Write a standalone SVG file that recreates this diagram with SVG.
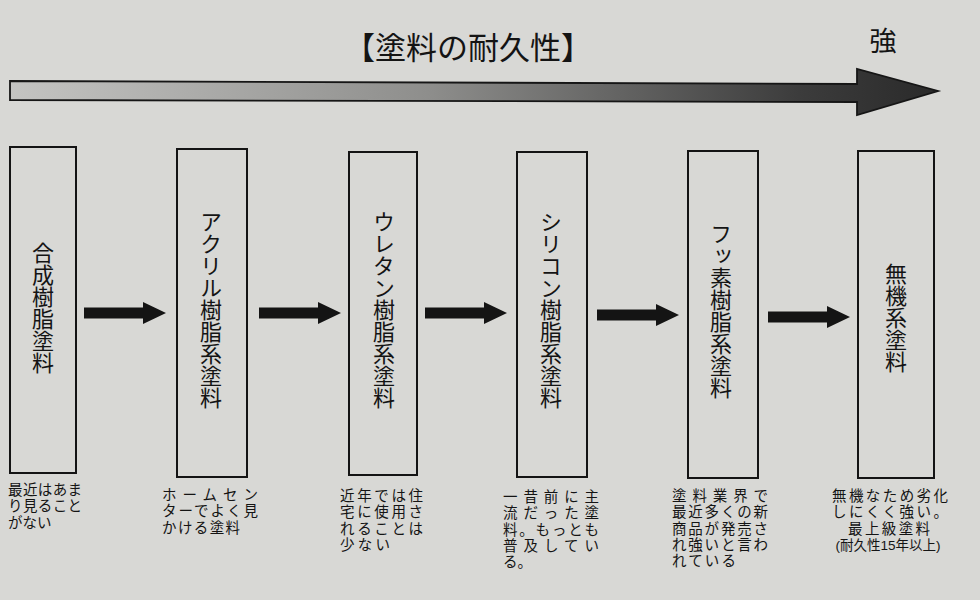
<svg xmlns="http://www.w3.org/2000/svg" xmlns:xlink="http://www.w3.org/1999/xlink" width="980" height="600" viewBox="0 0 980 600">
<style>
text{font-family:"Noto Sans CJK JP","Noto Sans",sans-serif;fill:#141414}
.title{font-size:31px;text-anchor:middle}
.strong{font-size:27px;text-anchor:middle}
.box{fill:none;stroke:#141414;stroke-width:2}
.vt{font-size:22px;writing-mode:vertical-rl;text-anchor:middle}
.cap{font-family:"Liberation Sans","Noto Sans CJK JP",sans-serif;font-size:14.5px}
.small{font-family:"Liberation Sans","Noto Sans CJK JP",sans-serif;font-size:13.5px;text-anchor:middle}
.conn{fill:#141414}
</style>
<defs>
<linearGradient id="axisGrad" gradientUnits="userSpaceOnUse" x1="10" y1="0" x2="938" y2="0">
<stop offset="0" stop-color="#c4c4c2"/>
<stop offset="0.45" stop-color="#8e8e8c"/>
<stop offset="0.85" stop-color="#3c3c3c"/>
<stop offset="1" stop-color="#2a2a2a"/>
</linearGradient>
<path id="arrow" d="M0,-5.5 H59 V-11 L82,0 L59,11 V5.5 H0 Z"/>
</defs>
<rect width="980" height="600" fill="#d8d8d5"/>
<g id="header">
<text class="title" x="468" y="59">【塗料の耐久性】</text>
<text class="strong" x="883" y="51">強</text>
<path id="axis-arrow" d="M10,81 L857,84 L857,69 L938,91 L857,115 L857,102 L10,100 Z" fill="url(#axisGrad)" stroke="#161616" stroke-width="1.8" stroke-linejoin="miter"/>
</g>
<g id="connectors" class="conn">
<use xlink:href="#arrow" transform="translate(84,313)"/>
<use xlink:href="#arrow" transform="translate(259,313)"/>
<use xlink:href="#arrow" transform="translate(425,313)"/>
<use xlink:href="#arrow" transform="translate(597,315)"/>
<use xlink:href="#arrow" transform="translate(768,317)"/>
</g>
<g id="node-1">
<rect class="box" x="10" y="147" width="66" height="326"/>
<text class="vt" x="43" y="308">合成樹脂塗料</text>
<text class="cap"><tspan x="8" y="495" textLength="74" lengthAdjust="spacing">最近はあま</tspan><tspan x="8" y="511.3" textLength="74" lengthAdjust="spacing">り見ること</tspan><tspan x="8" y="527.6">がない</tspan></text>
</g>
<g id="node-2">
<rect class="box" x="177" y="149" width="70" height="328"/>
<text class="vt" x="211" y="310">アクリル樹脂系塗料</text>
<text class="cap"><tspan x="162" y="500" textLength="96" lengthAdjust="spacing">ホームセン</tspan><tspan x="162" y="516.3" textLength="96" lengthAdjust="spacing">ターでよく見</tspan><tspan x="162" y="532.6" textLength="78" lengthAdjust="spacing">かける塗料</tspan></text>
</g>
<g id="node-3">
<rect class="box" x="349" y="152" width="68" height="323"/>
<text class="vt" x="384" y="310">ウレタン樹脂系塗料</text>
<text class="cap"><tspan x="340" y="501" textLength="83" lengthAdjust="spacing">近年では住</tspan><tspan x="340" y="517.3" textLength="83" lengthAdjust="spacing">宅に使用さ</tspan><tspan x="340" y="533.6" textLength="83" lengthAdjust="spacing">れることは</tspan><tspan x="340" y="549.9" textLength="50" lengthAdjust="spacing">少ない</tspan></text>
</g>
<g id="node-4">
<rect class="box" x="517" y="152" width="70" height="325"/>
<text class="vt" x="551" y="310">シリコン樹脂系塗料</text>
<text class="cap"><tspan x="503" y="502" textLength="96" lengthAdjust="spacing">一昔前に主</tspan><tspan x="503" y="518.3" textLength="96" lengthAdjust="spacing">流だった塗</tspan><tspan x="503" y="534.6" textLength="96" lengthAdjust="spacing">料。もっとも</tspan><tspan x="503" y="550.9" textLength="96" lengthAdjust="spacing">普及してい</tspan><tspan x="503" y="567.2">る。</tspan></text>
</g>
<g id="node-5">
<rect class="box" x="688" y="151" width="70" height="327"/>
<text class="vt" x="721" y="311">フッ素樹脂系塗料</text>
<text class="cap"><tspan x="672" y="501" textLength="96" lengthAdjust="spacing">塗料業界で</tspan><tspan x="672" y="517.3" textLength="96" lengthAdjust="spacing">最近多くの新</tspan><tspan x="672" y="533.6" textLength="96" lengthAdjust="spacing">商品が発売さ</tspan><tspan x="672" y="549.9" textLength="96" lengthAdjust="spacing">れ強いと言わ</tspan><tspan x="672" y="566.2" textLength="64" lengthAdjust="spacing">れている</tspan></text>
</g>
<g id="node-6">
<rect class="box" x="858" y="151" width="76" height="327"/>
<text class="vt" x="896" y="318">無機系塗料</text>
<text class="cap"><tspan x="832" y="501" textLength="116" lengthAdjust="spacing">無機なため劣化</tspan><tspan x="832" y="517.3" textLength="116" lengthAdjust="spacing">しにくく強い。</tspan><tspan x="889" y="533.6" text-anchor="middle" textLength="82" lengthAdjust="spacing">最上級塗料</tspan></text>
<text class="small" x="888" y="550">(耐久性15年以上)</text>
</g>
</svg>
